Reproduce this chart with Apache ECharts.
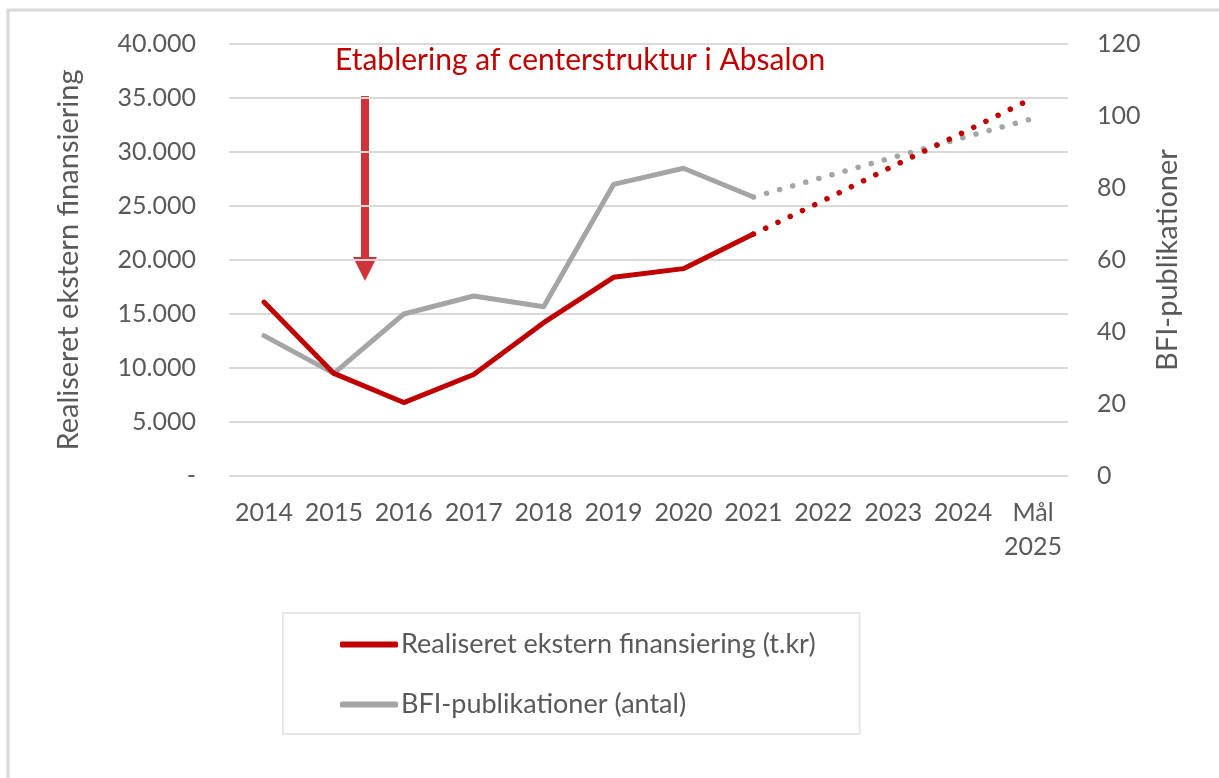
<!DOCTYPE html>
<html>
<head>
<meta charset="utf-8">
<script src="https://cdn.jsdelivr.net/npm/echarts@6/dist/echarts.min.js"></script>
<style>
  html, body { margin: 0; padding: 0; background: #fff; }
  #main { width: 1219px; height: 778px; }
</style>
</head>
<body>
<div id="main"></div>
<script>
// kategorier
var years = ['2014', '2015', '2016', '2017', '2018', '2019', '2020', '2021', '2022', '2023', '2024', 'Mål\n2025'];
// realiseret ekstern finansiering (t.kr), faktisk + mål
var finansiering = [16100, 9500, 6800, 9400, 14200, 18400, 19200, 22400, null, null, null, null];
var finansieringMaal = [null, null, null, null, null, null, null, 22400, 25500, 28700, 31800, 35000];
// BFI-publikationer (antal), faktisk + mål
var bfi = [39, 28.5, 45, 50, 47, 81, 85.5, 77.5, null, null, null, null];
var bfiMaal = [null, null, null, null, null, null, null, 77.5, 83, 88.5, 94, 99.3];

var leftTicks = { min: 0, max: 40000, interval: 5000 };
var rightTicks = { min: 0, max: 120, interval: 20 };

var RED = '#c00000';
var GREY = '#a5a5a5';
var FONT = 'Lato';

var myChart = echarts.init(document.getElementById('main'));

var option = {
  animation: false,
  textStyle: { fontFamily: FONT },
  grid: { left: 229, right: 151, top: 44, bottom: 302 },
  legend: {
    orient: 'vertical',
    left: 283,
    top: 613,
    padding: [18, 44, 16, 57],
    itemGap: 33,
    itemWidth: 58,
    itemHeight: 6,
    borderColor: '#e6e6e6',
    borderWidth: 2,
    data: [
      { name: 'Realiseret ekstern finansiering (t.kr)', icon: 'roundRect' },
      { name: 'BFI-publikationer (antal)', icon: 'roundRect' }
    ],
    textStyle: { color: '#595959', fontSize: 27, fontFamily: FONT, padding: [0, 0, 0, -2] }
  },
  xAxis: {
    type: 'category',
    data: years,
    boundaryGap: true,
    axisLine: { show: false },
    axisTick: { show: false },
    axisLabel: { color: '#595959', fontSize: 25, margin: 20, lineHeight: 34, interval: 0, verticalAlign: 'top' }
  },
  yAxis: [
    {
      type: 'value',
      min: leftTicks.min, max: leftTicks.max, interval: leftTicks.interval,
      name: 'Realiseret ekstern finansiering',
      nameLocation: 'middle',
      nameGap: 146,
      nameTextStyle: { color: '#595959', fontSize: 29 },
      axisLine: { show: false },
      axisTick: { show: false },
      splitLine: { lineStyle: { color: '#d9d9d9', width: 2 } },
      axisLabel: {
        color: '#595959', fontSize: 25, margin: 33,
        formatter: function (v) {
          if (v === 0) return '-';
          return String(v).replace(/\B(?=(\d{3})+(?!\d))/g, '.');
        }
      }
    },
    {
      type: 'value',
      min: rightTicks.min, max: rightTicks.max, interval: rightTicks.interval,
      name: 'BFI-publikationer',
      nameLocation: 'middle',
      nameGap: 85,
      nameTextStyle: { color: '#595959', fontSize: 29 },
      axisLine: { show: false },
      axisTick: { show: false },
      splitLine: { show: false },
      axisLabel: { color: '#595959', fontSize: 25, margin: 29 }
    }
  ],
  series: [
    {
      name: 'Realiseret ekstern finansiering (t.kr)',
      type: 'line',
      yAxisIndex: 0,
      data: finansiering,
      showSymbol: false,
      symbol: 'none',
      z: 4,
      lineStyle: { color: RED, width: 5, cap: 'round', join: 'round' },
      itemStyle: { color: RED }
    },
    {
      name: 'BFI-publikationer (antal)',
      type: 'line',
      yAxisIndex: 1,
      data: bfi,
      showSymbol: false,
      symbol: 'none',
      z: 3,
      lineStyle: { color: GREY, width: 5, cap: 'round', join: 'round' },
      itemStyle: { color: GREY }
    },
    {
      name: 'finansieringMaal',
      type: 'line',
      yAxisIndex: 0,
      data: finansieringMaal,
      showSymbol: false,
      symbol: 'none',
      z: 4,
      lineStyle: { color: RED, width: 5.5, type: [0.1, 13.5], cap: 'round' }
    },
    {
      name: 'bfiMaal',
      type: 'line',
      yAxisIndex: 1,
      data: bfiMaal,
      showSymbol: false,
      symbol: 'none',
      z: 3,
      lineStyle: { color: GREY, width: 5.5, type: [0.1, 13.5], cap: 'round' }
    }
  ],
  graphic: [
    {
      type: 'rect',
      silent: true,
      shape: { x: 8, y: 10, width: 1240, height: 800 },
      style: { fill: 'none', stroke: '#d9d9d9', lineWidth: 3 }
    },
    {
      type: 'text',
      left: 335,
      top: 45,
      style: { text: 'Etablering af centerstruktur i Absalon', fill: RED, font: '30px ' + FONT }
    },
    {
      type: 'rect',
      shape: { x: 361, y: 96, width: 8, height: 162 },
      style: { fill: '#d13438' }
    },
    {
      type: 'polygon',
      shape: { points: [[353, 257], [377, 257], [365, 281]] },
      style: { fill: '#d13438' }
    }
  ]
};

myChart.setOption(option);
window.addEventListener('resize', function () {
  myChart.resize();
});
</script>
</body>
</html>
